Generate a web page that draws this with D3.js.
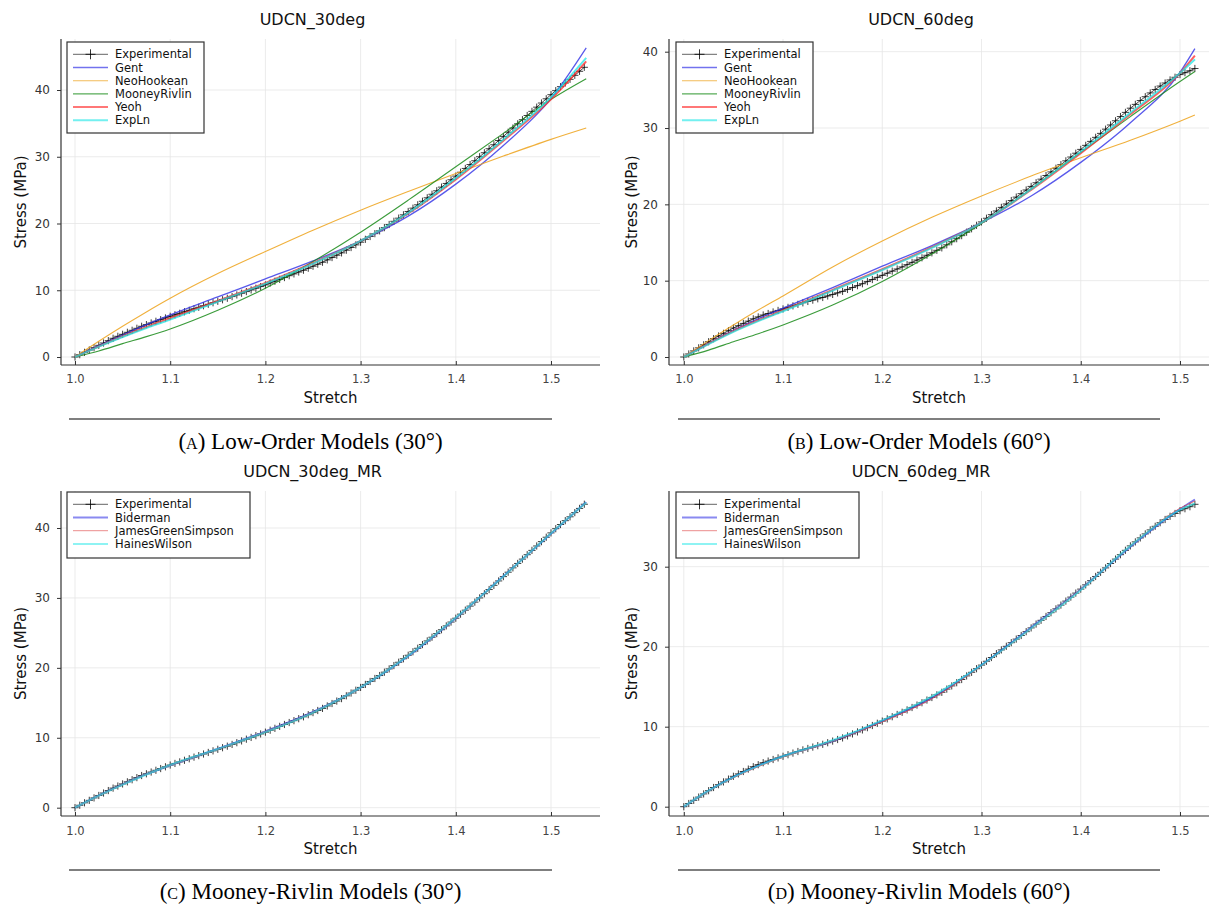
<!DOCTYPE html>
<html>
<head>
<meta charset="utf-8">
<script src="https://cdn.jsdelivr.net/npm/d3@7"></script>
<style>
  body { margin: 0; background: #fff; }
  svg text { font-family: "DejaVu Sans", sans-serif; }
  .cap { font-family: "Liberation Serif", "Times New Roman", serif; }
</style>
</head>
<body>
<svg id="fig" width="1210" height="910"></svg>
<script>
// ---- experimental uniaxial data: stretch and stress (MPa) ----
const exp30Stretch = [
  1.000,1.005,1.010,1.015,1.020,1.025,1.030,1.035,1.040,1.045,1.050,1.055,1.060,1.065,1.070,1.075,1.080,1.085,1.090,1.095,
  1.100,1.105,1.110,1.115,1.120,1.125,1.130,1.135,1.140,1.145,1.150,1.155,1.160,1.165,1.170,1.175,1.180,1.185,1.190,1.195,
  1.200,1.205,1.210,1.215,1.220,1.225,1.230,1.235,1.240,1.245,1.250,1.255,1.260,1.265,1.270,1.275,1.280,1.285,1.290,1.295,
  1.300,1.305,1.310,1.315,1.320,1.325,1.330,1.335,1.340,1.345,1.350,1.355,1.360,1.365,1.370,1.375,1.380,1.385,1.390,1.395,
  1.400,1.405,1.410,1.415,1.420,1.425,1.430,1.435,1.440,1.445,1.450,1.455,1.460,1.465,1.470,1.475,1.480,1.485,1.490,1.495,
  1.500,1.505,1.510,1.515,1.520,1.525,1.530,1.535];
const exp30Stress = [
  0.00,0.35,0.70,1.05,1.40,1.75,2.10,2.45,2.80,3.10,3.40,3.70,4.00,4.30,4.60,4.85,5.10,5.35,5.60,5.85,
  6.10,6.33,6.55,6.78,7.00,7.23,7.45,7.68,7.90,8.13,8.35,8.58,8.80,9.05,9.30,9.55,9.80,10.05,10.30,10.55,
  10.80,11.08,11.35,11.63,11.90,12.18,12.45,12.73,13.00,13.30,13.60,13.90,14.20,14.55,14.90,15.25,15.60,16.00,16.40,16.80,
  17.20,17.63,18.05,18.48,18.90,19.38,19.85,20.33,20.80,21.30,21.80,22.30,22.80,23.33,23.85,24.38,24.90,25.45,26.00,26.55,
  27.10,27.68,28.25,28.83,29.40,30.00,30.60,31.20,31.80,32.43,33.05,33.68,34.30,34.93,35.55,36.18,36.80,37.43,38.05,38.68,
  39.30,39.90,40.50,41.05,41.60,42.20,42.80,43.40];

const exp60Stretch = [
  1.000,1.005,1.010,1.015,1.020,1.025,1.030,1.035,1.040,1.045,1.050,1.055,1.060,1.065,1.070,1.075,1.080,1.085,1.090,1.095,
  1.100,1.105,1.110,1.115,1.120,1.125,1.130,1.135,1.140,1.145,1.150,1.155,1.160,1.165,1.170,1.175,1.180,1.185,1.190,1.195,
  1.200,1.205,1.210,1.215,1.220,1.225,1.230,1.235,1.240,1.245,1.250,1.255,1.260,1.265,1.270,1.275,1.280,1.285,1.290,1.295,
  1.300,1.305,1.310,1.315,1.320,1.325,1.330,1.335,1.340,1.345,1.350,1.355,1.360,1.365,1.370,1.375,1.380,1.385,1.390,1.395,
  1.400,1.405,1.410,1.415,1.420,1.425,1.430,1.435,1.440,1.445,1.450,1.455,1.460,1.465,1.470,1.475,1.480,1.485,1.490,1.495,
  1.500,1.505,1.510,1.515];
const exp60Stress = [
  0.00,0.40,0.80,1.20,1.60,2.00,2.40,2.75,3.10,3.45,3.80,4.10,4.40,4.70,5.00,5.25,5.50,5.70,5.90,6.10,
  6.30,6.50,6.70,6.90,7.10,7.28,7.45,7.63,7.80,8.00,8.20,8.40,8.60,8.85,9.10,9.35,9.60,9.88,10.15,10.43,
  10.70,10.98,11.25,11.53,11.80,12.10,12.40,12.70,13.00,13.33,13.65,13.98,14.30,14.70,15.10,15.50,15.90,16.35,16.80,17.25,
  17.70,18.18,18.65,19.13,19.60,20.05,20.50,20.95,21.40,21.88,22.35,22.83,23.30,23.78,24.25,24.73,25.20,25.70,26.20,26.70,
  27.20,27.73,28.25,28.78,29.30,29.85,30.40,30.95,31.50,32.05,32.60,33.10,33.60,34.10,34.60,35.05,35.50,35.90,36.30,36.65,
  37.00,37.25,37.50,37.80];

// ---- fitted model curves ----
const fit30Stretch = [1.0,1.025,1.05,1.075,1.1,1.15,1.2,1.25,1.3,1.35,1.4,1.45,1.5,1.537];
const gent30    = [0,1.7,3.3,4.85,6.3,9.0,11.7,14.4,17.4,21.1,25.9,31.7,38.7,46.3];
const neo30     = [0,2.35,4.6,6.75,8.8,12.5,15.8,19.0,22.0,24.8,27.5,30.1,32.6,34.3];
const mr30      = [0,0.9,2.0,3.05,4.2,7.0,10.3,14.3,18.7,23.5,28.5,33.5,38.6,41.7];
const yeoh30    = [0,1.6,3.1,4.5,5.8,8.4,11.1,14.1,17.4,21.5,26.6,32.4,38.6,44.3];
const expln30   = [0,1.55,3.0,4.35,5.6,8.3,11.0,14.0,17.4,21.6,26.8,32.6,38.9,44.8];
const bid30     = [0,1.75,3.35,4.8,6.05,8.4,10.9,13.7,17.2,21.7,27.1,33.1,39.2,43.7];
const jgs30     = [0,1.7,3.35,4.8,6.05,8.35,10.85,13.65,17.2,21.8,27.1,33.0,39.3,43.6];
const hw30      = [0,1.72,3.3,4.75,6.1,8.4,10.8,13.6,17.2,21.75,27.15,33.05,39.25,43.65];

const fit60Stretch = [1.0,1.025,1.05,1.075,1.1,1.15,1.2,1.25,1.3,1.35,1.4,1.45,1.5,1.515];
const gent60    = [0,1.8,3.5,5.0,6.4,9.1,11.9,14.6,17.6,21.1,25.5,30.7,37.3,40.4];
const neo60     = [0,2.15,4.2,6.15,8.0,11.8,15.2,18.3,21.1,23.7,26.1,28.4,30.9,31.7];
const mr60      = [0,0.9,2.0,3.05,4.2,6.8,9.9,13.5,17.5,22.0,26.8,31.5,36.1,37.4];
const yeoh60    = [0,1.75,3.4,4.8,6.1,8.8,11.5,14.4,17.6,21.9,26.7,31.8,37.2,39.5];
const expln60   = [0,1.7,3.3,4.7,6.0,8.7,11.4,14.3,17.6,22.0,26.9,32.0,37.2,39.0];
const bid60     = [0,2.0,3.7,5.1,6.3,8.2,10.7,13.6,17.7,22.4,27.2,32.5,37.2,38.4];
const jgs60     = [0,1.95,3.6,5.0,6.2,8.2,10.6,13.5,17.6,22.3,27.2,32.6,37.3,38.2];
const hw60      = [0,2.0,3.7,5.1,6.3,8.3,10.8,13.8,17.7,22.3,27.1,32.6,37.1,37.9];

// ---- tick labels ----
const xTicks = [1.0, 1.1, 1.2, 1.3, 1.4, 1.5];
const yTicks40 = [0, 10, 20, 30, 40];
const yTicks30 = [0, 10, 20, 30];

// ---- series styles ----
const styles = {
  Experimental:      { color: "#000000", width: 0.9, opacity: 0.8 },
  Gent:              { color: "#2f2fe6", width: 1.3, opacity: 0.8 },
  NeoHookean:        { color: "#eda21a", width: 1.1, opacity: 0.85 },
  MooneyRivlin:      { color: "#178a17", width: 1.1, opacity: 0.85 },
  Yeoh:              { color: "#ff2a2a", width: 2.0, opacity: 0.75 },
  ExpLn:             { color: "#14e6e6", width: 2.0, opacity: 0.7 },
  Biderman:          { color: "#3a3ae6", width: 1.8, opacity: 0.7 },
  JamesGreenSimpson: { color: "#e25555", width: 1.0, opacity: 0.8 },
  HainesWilson:      { color: "#22e8e8", width: 2.0, opacity: 0.6 }
};

const zip = (xs, ys) => xs.map((x, i) => [x, ys[i]]);

const panels = [
  {
    title: "UDCN_30deg", capLetter: "a", capText: "Low-Order Models (30°)",
    area: { l: 61, r: 600, t: 39, b: 365 }, xPix: [75, 551], yPix: [357, 90], yTicks: yTicks40,
    titleY: 25, capLineY: 419, capX: [69, 552], capY: 449, tickY: 383, xLabelY: 403, yLabelX: 21,
    legend: { x: 67, y: 42, w: 137, h: 91 },
    exp: zip(exp30Stretch, exp30Stress),
    fits: [["Gent", gent30], ["NeoHookean", neo30], ["MooneyRivlin", mr30], ["Yeoh", yeoh30], ["ExpLn", expln30]],
    fitX: fit30Stretch
  },
  {
    title: "UDCN_60deg", capLetter: "b", capText: "Low-Order Models (60°)",
    area: { l: 669, r: 1209, t: 39, b: 365 }, xPix: [683.8, 1180], yPix: [357, 51.7], yTicks: yTicks40,
    titleY: 25, capLineY: 419, capX: [678, 1160], capY: 449, tickY: 383, xLabelY: 403, yLabelX: 632,
    legend: { x: 676, y: 42, w: 137, h: 91 },
    exp: zip(exp60Stretch, exp60Stress),
    fits: [["Gent", gent60], ["NeoHookean", neo60], ["MooneyRivlin", mr60], ["Yeoh", yeoh60], ["ExpLn", expln60]],
    fitX: fit60Stretch
  },
  {
    title: "UDCN_30deg_MR", capLetter: "c", capText: "Mooney-Rivlin Models (30°)",
    area: { l: 61, r: 600, t: 491, b: 816 }, xPix: [75, 551], yPix: [807.7, 528], yTicks: yTicks40,
    titleY: 477, capLineY: 870, capX: [69, 552], capY: 899, tickY: 835, xLabelY: 854, yLabelX: 21,
    legend: { x: 67, y: 492, w: 183, h: 66 },
    exp: zip(exp30Stretch, exp30Stress),
    fits: [["Biderman", bid30], ["JamesGreenSimpson", jgs30], ["HainesWilson", hw30]],
    fitX: fit30Stretch
  },
  {
    title: "UDCN_60deg_MR", capLetter: "d", capText: "Mooney-Rivlin Models (60°)",
    area: { l: 669, r: 1209, t: 491, b: 816 }, xPix: [683.8, 1180], yPix: [806.7, 566.7], yTicks: yTicks30,
    titleY: 477, capLineY: 870, capX: [678, 1160], capY: 899, tickY: 835, xLabelY: 854, yLabelX: 632,
    legend: { x: 676, y: 492, w: 183, h: 66 },
    exp: zip(exp60Stretch, exp60Stress),
    fits: [["Biderman", bid60], ["JamesGreenSimpson", jgs60], ["HainesWilson", hw60]],
    fitX: fit60Stretch
  }
];

const svg = d3.select("#fig");
const crossPath = h => `M${-h},0H${h}M0,${-h}V${h}`;

panels.forEach((p, pi) => {
  const A = p.area;
  const x = d3.scaleLinear().domain([1.0, 1.5]).range(p.xPix);
  const yTop = p.yTicks[p.yTicks.length - 1];
  const y = d3.scaleLinear().domain([0, yTop]).range(p.yPix);
  const g = svg.append("g");

  // clip to the plot area
  const clipId = "clip" + pi;
  svg.append("clipPath").attr("id", clipId)
    .append("rect").attr("x", A.l).attr("y", A.t).attr("width", A.r - A.l).attr("height", A.b - A.t);

  // grid
  g.append("g").selectAll("line").data(xTicks).join("line")
    .attr("x1", d => x(d)).attr("x2", d => x(d)).attr("y1", A.t).attr("y2", A.b)
    .attr("stroke", "#e6e6e6").attr("stroke-width", 0.8);
  g.append("g").selectAll("line").data(p.yTicks).join("line")
    .attr("y1", d => y(d)).attr("y2", d => y(d)).attr("x1", A.l).attr("x2", A.r)
    .attr("stroke", "#e6e6e6").attr("stroke-width", 0.8);

  // axes (left + bottom frame)
  const xAxis = d3.axisBottom(x).tickValues(xTicks).tickFormat(d3.format(".1f")).tickSize(-4).tickPadding(0);
  const xg = g.append("g").attr("transform", `translate(0,${A.b})`).call(xAxis);
  xg.select(".domain").remove();
  xg.selectAll(".tick line").attr("stroke", "#333");
  xg.selectAll(".tick text").attr("y", p.tickY - A.b).attr("dy", null)
    .attr("font-size", 11.5).attr("fill", "#444").attr("font-family", "DejaVu Sans");

  const yAxis = d3.axisLeft(y).tickValues(p.yTicks).tickFormat(d3.format("d")).tickSize(4).tickPadding(7);
  const yg = g.append("g").attr("transform", `translate(${A.l},0)`).call(yAxis);
  yg.select(".domain").remove();
  yg.selectAll(".tick line").attr("stroke", "#333");
  yg.selectAll(".tick text").attr("font-size", 12).attr("fill", "#333").attr("font-family", "DejaVu Sans");

  g.append("line").attr("x1", A.l).attr("x2", A.r).attr("y1", A.b).attr("y2", A.b)
    .attr("stroke", "#333").attr("stroke-width", 1.2);
  g.append("line").attr("x1", A.l).attr("x2", A.l).attr("y1", A.t).attr("y2", A.b)
    .attr("stroke", "#333").attr("stroke-width", 1.2);

  // title and axis labels
  g.append("text").attr("x", (p.capX[0] + p.capX[1]) / 2 + 2).attr("y", p.titleY)
    .attr("text-anchor", "middle").attr("font-size", 16).attr("fill", "#111").text(p.title);
  g.append("text").attr("x", (A.l + A.r) / 2).attr("y", p.xLabelY)
    .attr("text-anchor", "middle").attr("font-size", 15).attr("fill", "#111").text("Stretch");
  g.append("text").attr("transform", `translate(${p.yLabelX},${(A.t + A.b) / 2}) rotate(-90)`)
    .attr("dy", "0.35em").attr("text-anchor", "middle").attr("font-size", 15).attr("fill", "#111")
    .text("Stress (MPa)");

  // curves
  const plot = g.append("g").attr("clip-path", `url(#${clipId})`);
  const lineLin = d3.line().x(d => x(d[0])).y(d => y(d[1]));
  const lineFit = d3.line().x(d => x(d[0])).y(d => y(d[1])).curve(d3.curveMonotoneX);

  const es = styles.Experimental;
  plot.append("path").datum(p.exp).attr("d", lineLin).attr("fill", "none")
    .attr("stroke", es.color).attr("stroke-width", es.width).attr("stroke-opacity", es.opacity);
  plot.append("g").selectAll("path").data(p.exp).join("path")
    .attr("transform", d => `translate(${x(d[0])},${y(d[1])})`)
    .attr("d", crossPath(3.6)).attr("fill", "none")
    .attr("stroke", es.color).attr("stroke-width", 0.9).attr("stroke-opacity", 0.85);

  p.fits.forEach(([name, vals]) => {
    const s = styles[name];
    plot.append("path").datum(zip(p.fitX, vals)).attr("d", lineFit).attr("fill", "none")
      .attr("stroke", s.color).attr("stroke-width", s.width).attr("stroke-opacity", s.opacity);
  });

  // legend
  const L = p.legend;
  const lg = g.append("g");
  lg.append("rect").attr("x", L.x).attr("y", L.y).attr("width", L.w).attr("height", L.h)
    .attr("fill", "#fff").attr("stroke", "#333").attr("stroke-width", 1.2);
  const names = ["Experimental"].concat(p.fits.map(f => f[0]));
  names.forEach((n, i) => {
    const s = styles[n];
    const cy = L.y + 12.3 + i * 13.2;
    lg.append("line").attr("x1", L.x + 6).attr("x2", L.x + 41).attr("y1", cy).attr("y2", cy)
      .attr("stroke", s.color).attr("stroke-width", s.width).attr("stroke-opacity", s.opacity * 0.85);
    if (n === "Experimental") {
      lg.append("path").attr("transform", `translate(${L.x + 23.5},${cy})`).attr("d", crossPath(5))
        .attr("stroke", s.color).attr("stroke-width", 1).attr("stroke-opacity", s.opacity);
    }
    lg.append("text").attr("x", L.x + 48).attr("y", cy).attr("dy", "0.35em")
      .attr("font-size", 11.5).attr("fill", "#111").text(n);
  });

  // caption with rule
  svg.append("line").attr("x1", p.capX[0]).attr("x2", p.capX[1]).attr("y1", p.capLineY).attr("y2", p.capLineY)
    .attr("stroke", "#000").attr("stroke-width", 1.2);
  const cap = svg.append("text").attr("class", "cap").attr("x", (p.capX[0] + p.capX[1]) / 2).attr("y", p.capY)
    .attr("text-anchor", "middle").attr("font-size", 23).attr("fill", "#000");
  cap.append("tspan").text("(");
  cap.append("tspan").style("font-variant", "small-caps").text(p.capLetter);
  cap.append("tspan").text(") " + p.capText);
});
</script>
</body>
</html>
